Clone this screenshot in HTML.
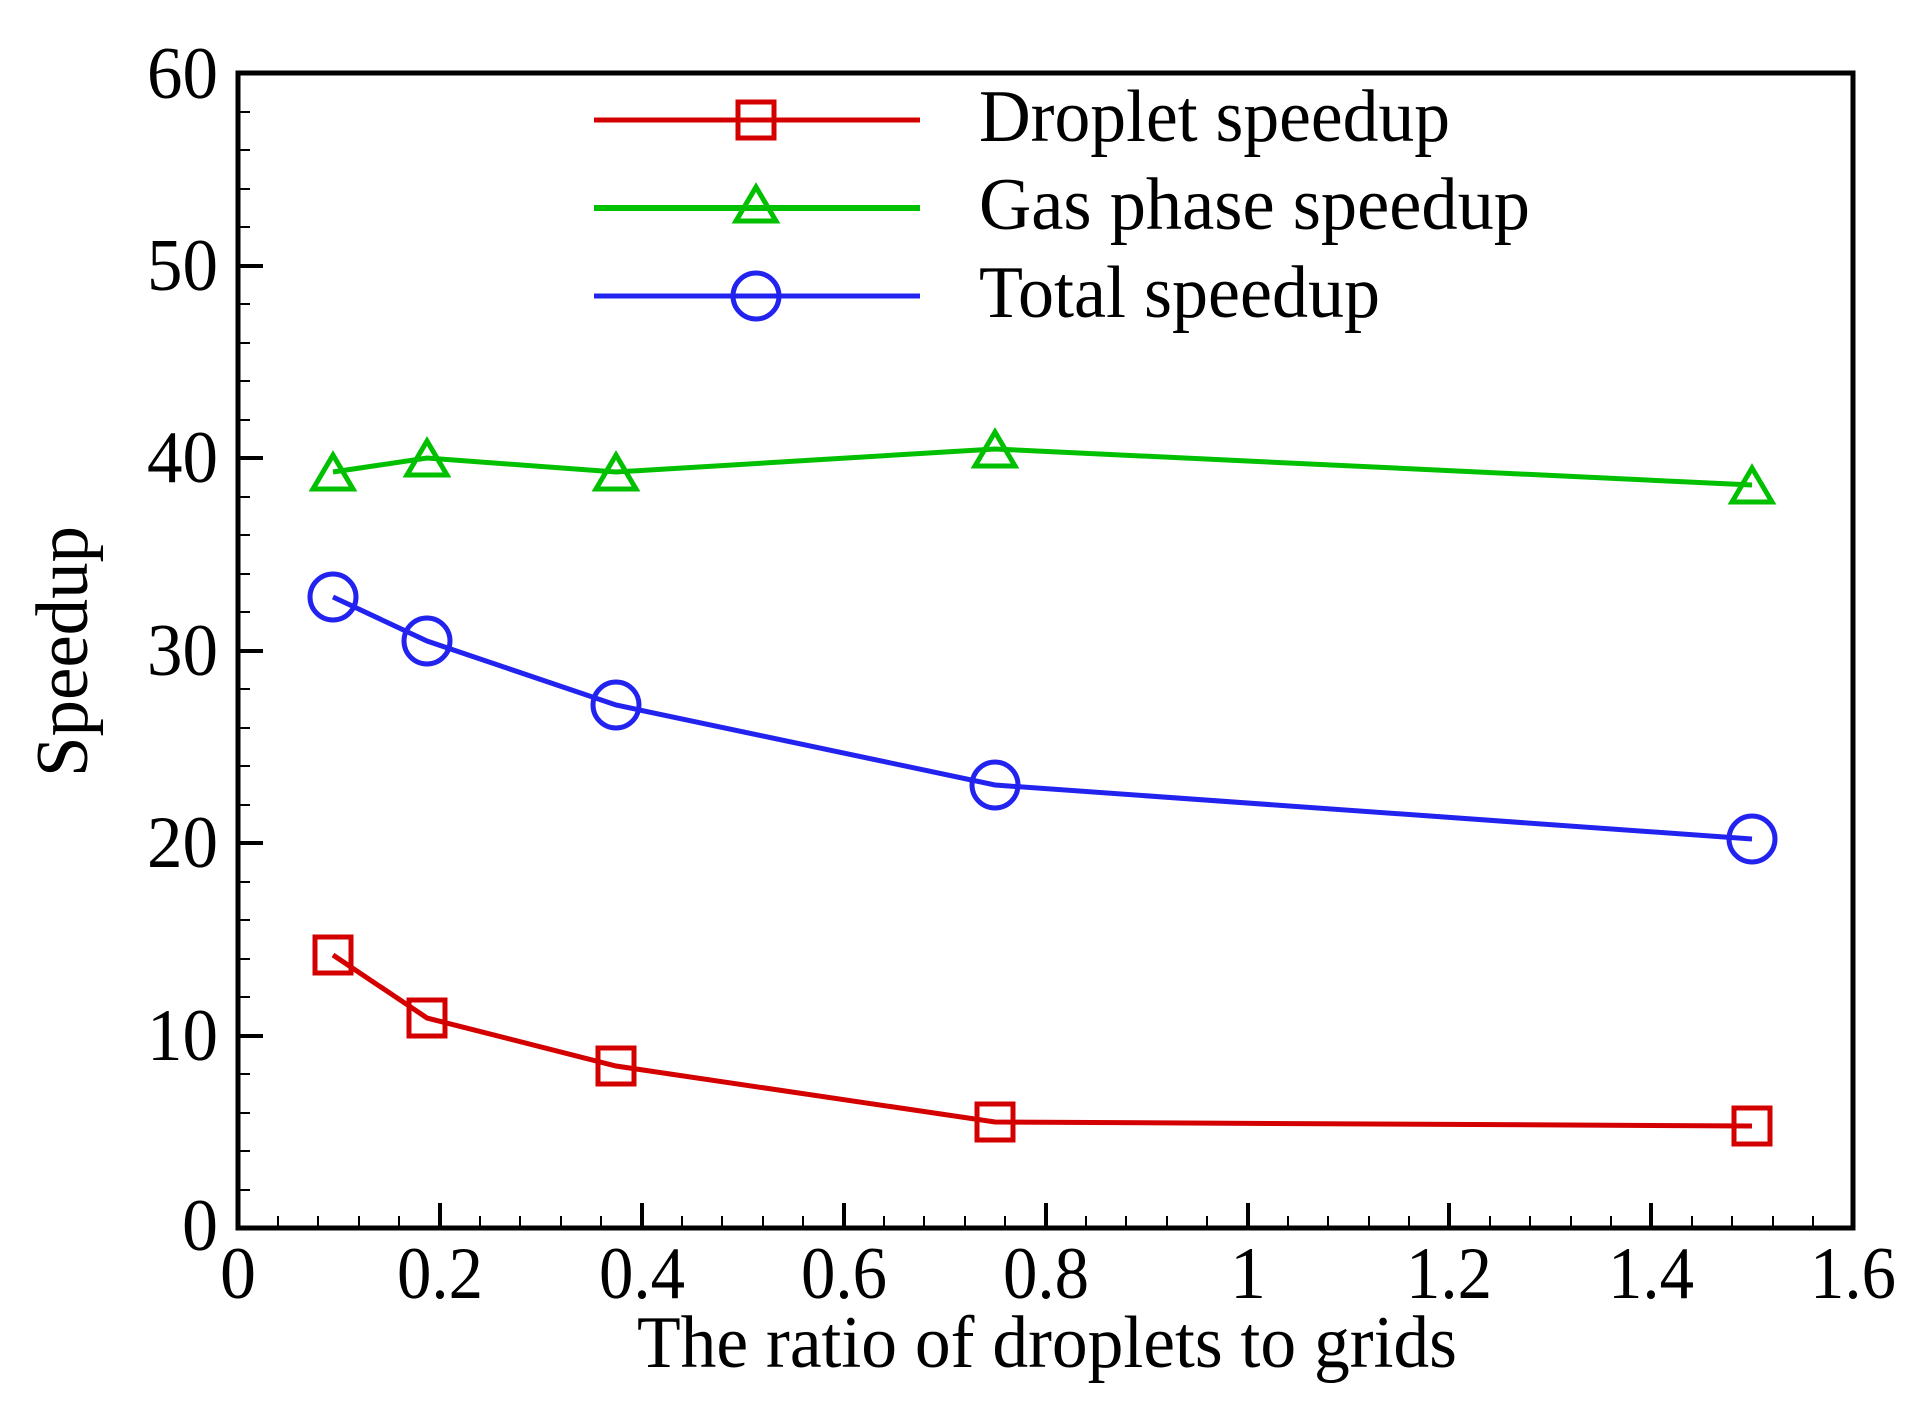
<!DOCTYPE html>
<html><head><meta charset="utf-8"><style>html,body{margin:0;padding:0;background:#fff}svg{display:block}</style></head>
<body>
<svg width="1917" height="1404" viewBox="0 0 1917 1404" xmlns="http://www.w3.org/2000/svg" font-family="'Liberation Serif', serif">
<g stroke="#000" stroke-width="2">
<path d="M278 1228v-12M318 1228v-12M359 1228v-12M399 1228v-12M480 1228v-12M520 1228v-12M561 1228v-12M601 1228v-12M682 1228v-12M722 1228v-12M763 1228v-12M803 1228v-12M884 1228v-12M924 1228v-12M965 1228v-12M1005 1228v-12M1086 1228v-12M1126 1228v-12M1167 1228v-12M1207 1228v-12M1288 1228v-12M1328 1228v-12M1369 1228v-12M1409 1228v-12M1490 1228v-12M1530 1228v-12M1571 1228v-12M1611 1228v-12M1692 1228v-12M1732 1228v-12M1773 1228v-12M1813 1228v-12"/>
<path d="M238 1190h12M238 1151h12M238 1113h12M238 1074h12M238 997h12M238 959h12M238 920h12M238 882h12M238 805h12M238 766h12M238 728h12M238 689h12M238 612h12M238 574h12M238 535h12M238 497h12M238 420h12M238 381h12M238 343h12M238 304h12M238 227h12M238 189h12M238 150h12M238 112h12"/>
</g>
<g stroke="#000" stroke-width="4">
<path d="M440 1228v-25M642 1228v-25M844 1228v-25M1046 1228v-25M1248 1228v-25M1449 1228v-25M1651 1228v-25"/>
<path d="M238 1036h25M238 843h25M238 651h25M238 458h25M238 266h25"/>
</g>
<rect x="238" y="73" width="1615" height="1155" fill="none" stroke="#000" stroke-width="5"/>
<g font-size="74" fill="#000">
<g text-anchor="end">
<text x="218" y="1250" textLength="36" lengthAdjust="spacingAndGlyphs">0</text>
<text x="218" y="1060" textLength="71" lengthAdjust="spacingAndGlyphs">10</text>
<text x="218" y="867" textLength="71" lengthAdjust="spacingAndGlyphs">20</text>
<text x="218" y="675" textLength="71" lengthAdjust="spacingAndGlyphs">30</text>
<text x="218" y="482" textLength="71" lengthAdjust="spacingAndGlyphs">40</text>
<text x="218" y="290" textLength="71" lengthAdjust="spacingAndGlyphs">50</text>
<text x="218" y="98" textLength="71" lengthAdjust="spacingAndGlyphs">60</text>
</g>
<g text-anchor="middle">
<text x="238" y="1298" textLength="36" lengthAdjust="spacingAndGlyphs">0</text>
<text x="440" y="1298" textLength="86" lengthAdjust="spacingAndGlyphs">0.2</text>
<text x="642" y="1298" textLength="86" lengthAdjust="spacingAndGlyphs">0.4</text>
<text x="844" y="1298" textLength="86" lengthAdjust="spacingAndGlyphs">0.6</text>
<text x="1046" y="1298" textLength="86" lengthAdjust="spacingAndGlyphs">0.8</text>
<text x="1248" y="1298" textLength="36" lengthAdjust="spacingAndGlyphs">1</text>
<text x="1449" y="1298" textLength="86" lengthAdjust="spacingAndGlyphs">1.2</text>
<text x="1651" y="1298" textLength="86" lengthAdjust="spacingAndGlyphs">1.4</text>
<text x="1853" y="1298" textLength="86" lengthAdjust="spacingAndGlyphs">1.6</text>
</g>
<text x="637" y="1367" textLength="820" lengthAdjust="spacingAndGlyphs">The ratio of droplets to grids</text>
<text transform="translate(87 777) rotate(-90)" textLength="251" lengthAdjust="spacingAndGlyphs">Speedup</text>
<text x="979" y="141" textLength="471" lengthAdjust="spacingAndGlyphs">Droplet speedup</text>
<text x="979" y="229" textLength="551" lengthAdjust="spacingAndGlyphs">Gas phase speedup</text>
<text x="979" y="317" textLength="401" lengthAdjust="spacingAndGlyphs">Total speedup</text>
</g>
<g stroke-width="5" fill="none">
<path d="M594 120H920" stroke="#d40000"/>
<rect x="738" y="102" width="36" height="36" stroke="#d40000"/>
<path d="M594 208H920" stroke="#00c000" stroke-width="6"/>
<path d="M756 187L776 221H736Z" stroke="#00c000"/>
<path d="M594 296H920" stroke="#2323f0"/>
<circle cx="756" cy="296" r="23" stroke="#2323f0"/>
</g>
<g fill="none" stroke-width="5">
<polyline stroke="#00c000" points="333,472 427,458 616,472 995,449 1752,485"/>
<g stroke="#00c000"><path d="M333,455L353,489H313Z"/><path d="M427,441L447,475H407Z"/><path d="M616,455L636,489H596Z"/><path d="M995,432L1015,466H975Z"/><path d="M1752,468L1772,502H1732Z"/></g>
<polyline stroke="#2323f0" points="333,597 427,641 616,705 995,785 1752,839"/>
<g stroke="#2323f0"><circle cx="333" cy="597" r="23"/><circle cx="427" cy="641" r="23"/><circle cx="616" cy="705" r="23"/><circle cx="995" cy="785" r="23"/><circle cx="1752" cy="839" r="23"/></g>
<polyline stroke="#d40000" points="333,955 427,1018 616,1066 995,1122 1752,1126"/>
<g stroke="#d40000"><rect x="315" y="937" width="36" height="36"/><rect x="409" y="1000" width="36" height="36"/><rect x="598" y="1048" width="36" height="36"/><rect x="977" y="1104" width="36" height="36"/><rect x="1734" y="1108" width="36" height="36"/></g>
</g>
</svg>
</body></html>
